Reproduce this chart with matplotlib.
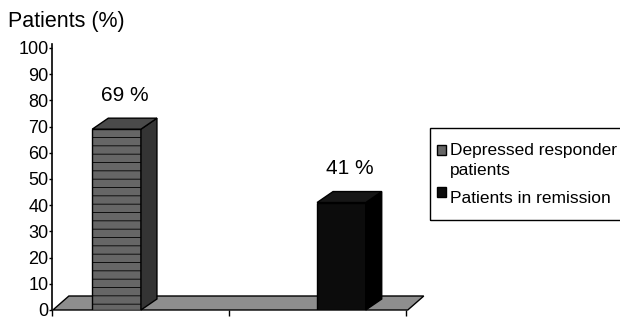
import matplotlib
matplotlib.use('Agg')
import matplotlib.pyplot as plt
from matplotlib.patches import Polygon, Rectangle

plt.rcParams['font.family'] = ['Liberation Sans', 'DejaVu Sans']
plt.rcParams['hatch.linewidth'] = 0.6
plt.rcParams['hatch.color'] = '#333333'

# 数据：每个系列只在自己的类别里有值
series_names = ['Depressed responder\npatients', 'Patients in remission']
series_values = [69, 41]
series_category = [0, 1]
y_ticks = list(range(0, 101, 10))

# 样式
front_colors = ['#666666', '#0c0c0c']
side_colors = ['#343434', '#000000']
top_colors = ['#4a4a4a', '#161616']
hatches = ['--', None]
offsets = [-0.135, 0.135]
bar_w = 0.275

fig = plt.figure(figsize=(6.2, 3.2), dpi=100)
ax = fig.add_axes([52 / 620, 10 / 320, 354 / 620, 266 / 320])
ax.set_xlim(-0.5, 1.5)
ax.set_ylim(0, 101.5)

# 立体效果的深度（数据单位）
px_x = 2 / 354
px_y = 101.5 / 266
dx, dy = 16 * px_x, 11 * px_y
fdx, fdy = 16 * px_x, 14 * px_y

# 底板
floor = Polygon([(-0.495, 0), (1.51, 0), (1.51 + fdx, fdy), (-0.495 + fdx, fdy)],
                closed=True, facecolor='#8e8e8e', edgecolor='black', lw=1,
                zorder=1, clip_on=False)
ax.add_patch(floor)

for i, (v, c) in enumerate(zip(series_values, series_category)):
    x = c + offsets[i]
    x0, x1 = x - bar_w / 2, x + bar_w / 2
    ax.bar(x, v, width=bar_w, color=front_colors[i], edgecolor='black',
           linewidth=1, hatch=hatches[i], zorder=3)
    side = Polygon([(x1, 0), (x1 + dx, dy), (x1 + dx, v + dy), (x1, v)],
                   closed=True, facecolor=side_colors[i], edgecolor='black',
                   lw=1, zorder=3, clip_on=False)
    top = Polygon([(x0, v), (x1, v), (x1 + dx, v + dy), (x0 + dx, v + dy)],
                  closed=True, facecolor=top_colors[i], edgecolor='black',
                  lw=1, zorder=3, clip_on=False)
    ax.add_patch(side)
    ax.add_patch(top)
    ax.text(x + dx / 2, v + dy + 5, f'{v} %', ha='center', va='bottom',
            fontsize=15, zorder=4)

# 坐标轴
for s in ['top', 'right', 'bottom']:
    ax.spines[s].set_visible(False)
ax.spines['left'].set_linewidth(1.2)
ax.set_yticks(y_ticks)
ax.tick_params(axis='y', length=2, width=1, pad=0.5, labelsize=13)
ax.set_xticks([-0.5, 0.5, 1.5])
ax.tick_params(axis='x', length=4, width=1, labelbottom=False)

fig.text(8 / 620, (320 - 27) / 320, 'Patients (%)', fontsize=15.5,
         va='baseline')

# 图例（手工绘制）
fig.add_artist(Rectangle((430 / 620, 100 / 320), 200 / 620, 92 / 320,
                         transform=fig.transFigure, fill=False,
                         edgecolor='black', lw=1))
legend_mark_y = [150, 192]
legend_base_y = [155, 203]
for i, name in enumerate(series_names):
    fig.add_artist(Rectangle((437 / 620, (320 - legend_mark_y[i] - 5) / 320),
                             9 / 620, 10 / 320, transform=fig.transFigure,
                             facecolor=front_colors[i], edgecolor='black',
                             lw=1))
    for j, line in enumerate(name.split('\n')):
        fig.text(450 / 620, (320 - legend_base_y[i] - 20 * j) / 320, line,
                 fontsize=12.5, va='baseline')

fig.savefig('out.png', dpi=100)
